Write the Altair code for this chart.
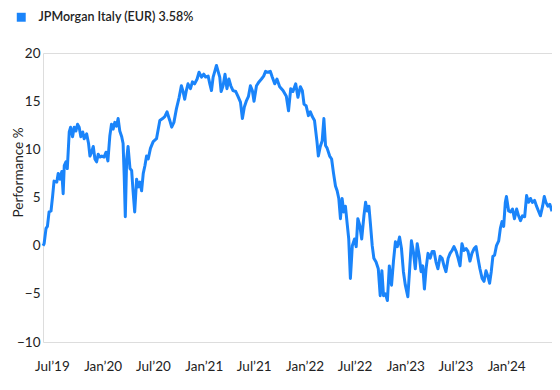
import altair as alt
import pandas as pd

SERIES = "JPMorgan Italy (EUR) 3.58%"
START = "2019-05-30"
END_DAY = 1843

days = [0, 4, 11, 16, 22, 29, 35, 40, 50, 55, 61,
        68, 73, 77, 83, 88, 95, 100, 107, 113, 119,
        125, 131, 137, 144, 149, 158, 165, 170, 176, 182,
        188, 194, 200, 206, 213, 221, 228, 235, 242, 248,
        254, 260, 266, 272, 278, 285, 290, 294, 298, 303,
        308, 315, 321, 326, 332, 339, 345, 351, 357, 363,
        369, 375, 381, 389, 399, 411, 423, 433, 441, 449,
        459, 466, 474, 483, 493, 501, 507, 513, 519, 525,
        534, 541, 549, 558, 565, 574, 582, 589, 598, 604,
        610, 616, 622, 628, 634, 640, 645, 652, 659, 666,
        673, 680, 688, 698, 706, 715, 722, 729, 736, 744,
        751, 758, 764, 773, 782, 791, 799, 806, 814, 823,
        830, 839, 847,
        857, 869, 881, 889, 897, 905, 915, 923, 932, 939,
        945, 953, 961, 968, 975, 983, 992, 997, 1004, 1011,
        1017, 1023, 1029, 1038, 1045, 1052, 1059, 1065, 1071, 1077,
        1083, 1089, 1095, 1102, 1107, 1113, 1120, 1128, 1134, 1140,
        1147, 1154, 1162, 1168, 1174, 1180, 1186, 1192, 1198, 1206,
        1214, 1221, 1227, 1233, 1240, 1247, 1254, 1262, 1269, 1276,
        1283, 1291, 1298, 1305, 1312, 1321, 1327, 1334, 1341, 1348,
        1355, 1362, 1369, 1375, 1381, 1387, 1394, 1402, 1409, 1416,
        1423, 1430, 1438, 1445, 1452, 1459, 1467, 1474, 1481, 1488,
        1496, 1503, 1510, 1517, 1524, 1532, 1539, 1546, 1553, 1561,
        1568, 1575, 1582, 1590, 1597, 1604, 1611, 1617, 1623, 1629,
        1635, 1642, 1650, 1656, 1662, 1668, 1674, 1678, 1686, 1693,
        1700, 1707, 1715, 1722, 1729, 1736, 1744, 1751, 1758, 1765,
        1772, 1780, 1787, 1794, 1801, 1809, 1815, 1821, 1828, 1835,
        1843]

performance = [0.0, 0.2, 1.8, 2.0, 3.5, 3.6, 5.2, 6.7, 6.6, 7.5, 6.9,
               7.7, 5.4, 8.3, 8.7, 8.0, 11.8, 12.3, 11.3, 12.3, 11.9,
               12.6, 12.3, 11.3, 11.8, 11.1, 11.6, 10.6, 9.3, 9.7, 10.3,
               9.0, 8.7, 9.5, 9.2, 9.3, 9.2, 9.7, 8.8, 11.4, 12.6,
               12.1, 12.8, 12.4, 13.2, 11.9, 11.3, 10.6, 7.3, 3.0, 9.0,
               10.3, 8.0, 7.8, 5.7, 3.5, 6.9, 6.1, 6.6, 5.7, 7.5,
               8.3, 9.3, 9.0, 10.1, 10.8, 11.1, 13.0, 13.2, 13.4, 13.9,
               13.0, 12.3, 12.8, 14.2, 15.4, 16.6, 16.0, 15.2, 16.1, 16.8,
               16.3, 17.0, 16.8, 17.3, 18.0, 17.5, 17.8, 17.5, 17.6, 16.8,
               16.1, 17.5, 18.1, 18.7, 18.1, 17.5, 16.0, 16.6, 17.8, 16.3,
               17.3, 16.6, 16.1, 16.0, 15.5, 14.9, 13.2, 14.4, 15.0, 15.5,
               16.6, 16.1, 15.0, 16.6, 17.0, 17.3, 17.6, 18.1, 18.0, 18.1,
               17.5, 16.8, 17.3,
               16.5, 16.1, 15.5, 14.0, 16.3, 16.0, 16.8, 15.4, 16.5, 16.1,
               14.7, 14.5, 13.5, 13.9, 13.4, 13.0, 10.8, 9.3, 10.3, 10.9,
               13.2, 10.4, 10.1, 9.3, 9.0, 7.5, 6.2, 5.7, 4.9, 2.8,
               4.9, 3.5, 4.1, 2.1, 0.7, -3.4, 0.0, 0.7, -0.1, 2.8,
               2.1, 0.7, 3.1, 4.5, 3.6, 4.1, 2.1, 0.0, -1.3, -1.7,
               -2.4, -5.2, -2.6, -5.2, -5.0, -5.7, -2.1, -4.1, -1.6, 0.4,
               -0.1, 0.9, -0.3, -2.7, -4.1, -5.3, -2.7, 0.5, -0.6, -2.4,
               0.2, -1.0, -2.7, -2.1, -4.5, -2.4, -0.8, -1.3, -0.6, -0.6,
               -1.7, -2.4, -1.1, -1.3, -2.1, -2.7, -1.3, -0.8, -0.5, -0.1,
               -0.6, -1.3, -2.1, 0.2, -0.5, -0.3, -0.6, -1.6, -0.8, -0.3,
               -0.1, -1.3, -2.4, -3.4, -3.7, -2.6, -3.2, -3.9, -2.7, -1.1,
               -1.0, 0.0, 0.5, 1.8, 2.5, 2.0, 4.5, 5.1, 3.6, 3.5,
               3.8, 2.8, 3.8, 3.1, 2.6, 3.1, 3.0, 5.2, 4.5, 4.9,
               4.5, 4.7, 4.1, 3.6, 3.1, 4.1, 5.1, 4.5, 4.1, 4.3,
               3.58]

tick_dates = ["2019-07-01", "2020-01-01", "2020-07-01", "2021-01-01", "2021-07-01",
              "2022-01-01", "2022-07-01", "2023-01-01", "2023-07-01", "2024-01-01"]
y_ticks = [-10, -5, 0, 5, 10, 15, 20]

base = pd.Timestamp(START)
df = pd.DataFrame({
    "date": [(base + pd.Timedelta(days=d)).strftime("%Y-%m-%dT00:00:00") for d in days],
    "perf": performance,
    "series": SERIES,
})

tick_vals = [alt.DateTime(year=int(s[:4]), month=int(s[5:7]), date=1) for s in tick_dates]
end_date = (base + pd.Timedelta(days=END_DAY))
dom = [alt.DateTime(year=base.year, month=base.month, date=base.day),
       alt.DateTime(year=end_date.year, month=end_date.month, date=end_date.day)]

FONT = "Lato"
COLOR = "#1a84fa"
TEXT = "#222222"

chart = alt.Chart(df).mark_line(strokeWidth=3, strokeJoin="round").encode(
    x=alt.X("date:T", scale=alt.Scale(domain=dom, nice=False),
            axis=alt.Axis(values=tick_vals, format="%b\u2019%y", title=None,
                          grid=False, domain=False, ticks=False, tickSize=0,
                          labelPadding=17, labelFontSize=13.5, labelColor=TEXT,
                          labelFont=FONT)),
    y=alt.Y("perf:Q", scale=alt.Scale(domain=[-10, 20], nice=False, zero=False),
            axis=alt.Axis(values=y_ticks, title="Performance %", grid=False,
                          domain=False, ticks=False, tickSize=0, labelPadding=3,
                          labelFontSize=13.5, labelColor=TEXT, labelFont=FONT,
                          titleFont=FONT, titleFontSize=13.5, titleFontWeight="normal",
                          titleColor=TEXT, titleX=-25, titleY=119, titleAngle=270,
                          titleAlign="center", titleBaseline="middle")),
    color=alt.Color("series:N", scale=alt.Scale(domain=[SERIES], range=[COLOR]),
                    legend=alt.Legend(title=None, orient="none", legendX=-28, legendY=-42,
                                      symbolType="square", symbolSize=80,
                                      symbolStrokeWidth=0, symbolFillColor=COLOR,
                                      labelFont=FONT, labelFontSize=12.5, labelLimit=400,
                                      labelFontWeight=600, labelColor=TEXT,
                                      labelOffset=11)),
).properties(
    width=509, height=289,
    autosize=alt.AutoSizeParams(type="none"),
    padding={"left": 35, "top": 45, "right": 0, "bottom": 40},
).configure_view(stroke=None).configure(background="white")

chart.save("out.html", embed_options={"renderer": "svg", "actions": False})
